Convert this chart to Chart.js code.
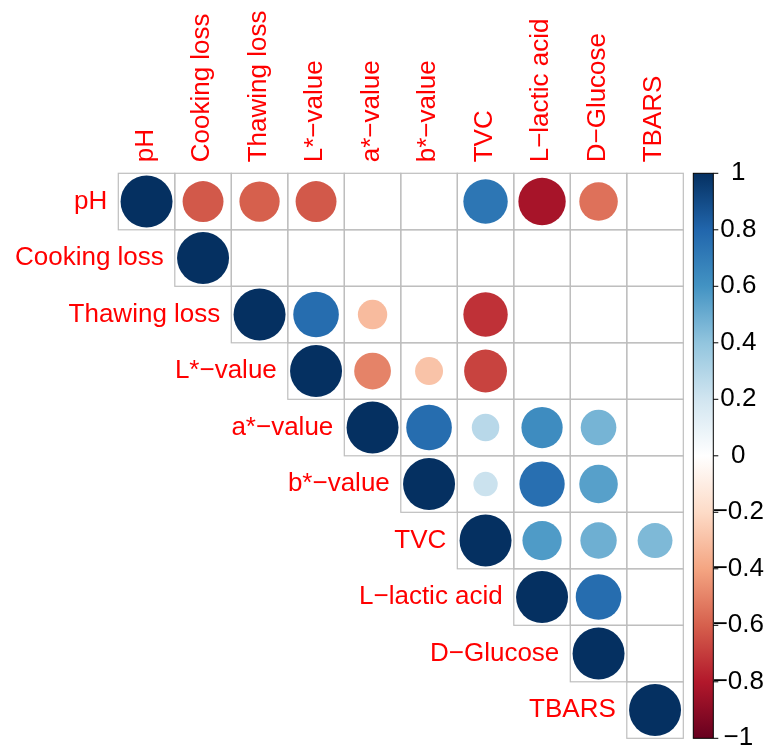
<!DOCTYPE html>
<html>
<head>
<meta charset="utf-8">
<title>Correlation matrix</title>
<script src="https://cdn.jsdelivr.net/npm/chart.js@4.4.1/dist/chart.umd.min.js"></script>
<style>
  html, body { margin: 0; padding: 0; background: #ffffff; }
  #wrap { width: 767px; height: 747px; position: relative; }
</style>
</head>
<body>
<div id="wrap"><canvas id="corr" width="767" height="747"></canvas></div>
<script>
// Variables in matrix order
const variables = ["pH", "Cooking loss", "Thawing loss", "L*\u2212value", "a*\u2212value",
                   "b*\u2212value", "TVC", "L\u2212lactic acid", "D\u2212Glucose", "TBARS"];

// Upper-triangle correlation coefficients, one array per row, starting at the diagonal.
// null = not significant (cell left empty)
const rowPH        = [1, -0.62, -0.60, -0.62, null, null, 0.73, -0.83, -0.55, null];
const rowCooking   = [1, null, null, null, null, null, null, null, null];
const rowThawing   = [1, 0.77, -0.32, null, -0.73, null, null, null];
const rowL         = [1, -0.50, -0.29, -0.68, null, null, null];
const rowA         = [1, 0.77, 0.28, 0.63, 0.47, null];
const rowB         = [1, 0.22, 0.76, 0.55, null];
const rowTVC       = [1, 0.57, 0.49, 0.45];
const rowLactic    = [1, 0.77, null];
const rowGlucose   = [1, null];
const rowTBARS     = [1];
const upperRows = [rowPH, rowCooking, rowThawing, rowL, rowA, rowB, rowTVC, rowLactic, rowGlucose, rowTBARS];

// Colour bar tick values and labels
const legendTicks  = [1, 0.8, 0.6, 0.4, 0.2, 0, -0.2, -0.4, -0.6, -0.8, -1];
const legendLabels = ["1", "0.8", "0.6", "0.4", "0.2", "0", "\u22120.2", "\u22120.4", "\u22120.6", "\u22120.8", "\u22121"];

// RdBu diverging palette, from -1 to 1
const paletteStops = ["#67001F", "#B2182B", "#D6604D", "#F4A582", "#FDDBC7", "#FFFFFF",
                      "#D1E5F0", "#92C5DE", "#4393C3", "#2166AC", "#053061"];

function hexToRgb(h) {
  return [parseInt(h.slice(1, 3), 16), parseInt(h.slice(3, 5), 16), parseInt(h.slice(5, 7), 16)];
}
function colourFor(v) {
  const pos = (Math.max(-1, Math.min(1, v)) + 1) / 2 * (paletteStops.length - 1);
  const i = Math.min(Math.floor(pos), paletteStops.length - 2);
  const t = pos - i;
  const a = hexToRgb(paletteStops[i]), b = hexToRgb(paletteStops[i + 1]);
  const c = a.map((x, k) => Math.round(x + (b[k] - x) * t));
  return `rgb(${c[0]},${c[1]},${c[2]})`;
}

// Build scatter points: x = column index, y = row index
const points = [];
upperRows.forEach((row, i) => {
  row.forEach((v, k) => {
    if (v !== null) points.push({ x: i + k, y: i, v: v });
  });
});

const n = variables.length;
const FONT = '"Liberation Sans", Arial, sans-serif';
const LABEL_RED = '#FF0000';

function cellSize(chart) {
  const xs = chart.scales.x;
  return Math.abs(xs.getPixelForValue(1) - xs.getPixelForValue(0));
}

// Grid of cells for the upper triangle
const gridPlugin = {
  id: 'cellGrid',
  beforeDatasetsDraw(chart) {
    const { ctx, scales: { x, y } } = chart;
    ctx.save();
    ctx.strokeStyle = '#BEBEBE';
    ctx.lineWidth = 1.2;
    for (let i = 0; i < n; i++) {
      for (let j = i; j < n; j++) {
        const x0 = x.getPixelForValue(j - 0.5), x1 = x.getPixelForValue(j + 0.5);
        const y0 = y.getPixelForValue(i - 0.5), y1 = y.getPixelForValue(i + 0.5);
        ctx.strokeRect(x0, y0, x1 - x0, y1 - y0);
      }
    }
    ctx.restore();
  }
};

// Row/column labels and the colour bar
const labelPlugin = {
  id: 'labelsAndLegend',
  afterDraw(chart) {
    const { ctx, scales: { x, y } } = chart;
    ctx.save();
    ctx.font = `26px ${FONT}`;
    ctx.fillStyle = LABEL_RED;

    // Column labels, rotated, above the grid
    const top = y.getPixelForValue(-0.5);
    variables.forEach((name, j) => {
      ctx.save();
      ctx.translate(x.getPixelForValue(j) - 1, top - 11);
      ctx.rotate(-Math.PI / 2);
      ctx.textAlign = 'left';
      ctx.textBaseline = 'middle';
      ctx.fillText(name, 0, 0);
      ctx.restore();
    });

    // Row labels, right-aligned just left of the diagonal cell
    ctx.textAlign = 'right';
    ctx.textBaseline = 'middle';
    variables.forEach((name, i) => {
      ctx.fillText(name, x.getPixelForValue(i - 0.5) - 11, y.getPixelForValue(i));
    });

    // Colour bar
    const barTop = y.getPixelForValue(-0.5);
    const barBottom = y.getPixelForValue(n - 0.5);
    const barLeft = x.getPixelForValue(n - 0.5) + 10;
    const barWidth = 20;
    const grad = ctx.createLinearGradient(0, barBottom, 0, barTop);
    paletteStops.forEach((c, k) => grad.addColorStop(k / (paletteStops.length - 1), c));
    ctx.fillStyle = grad;
    ctx.fillRect(barLeft, barTop, barWidth, barBottom - barTop);
    ctx.strokeStyle = '#000000';
    ctx.lineWidth = 1;
    ctx.strokeRect(barLeft, barTop, barWidth, barBottom - barTop);

    ctx.fillStyle = '#000000';
    ctx.textAlign = 'center';
    ctx.textBaseline = 'middle';
    legendTicks.forEach((v, k) => {
      const py = barTop + (1 - v) / 2 * (barBottom - barTop);
      ctx.beginPath();
      ctx.moveTo(barLeft + barWidth, py);
      ctx.lineTo(barLeft + barWidth + 5, py);
      ctx.stroke();
      ctx.fillText(legendLabels[k], barLeft + barWidth + 25, py);
    });
    ctx.restore();
  }
};

new Chart(document.getElementById('corr'), {
  type: 'scatter',
  data: {
    datasets: [{
      data: points,
      pointStyle: 'circle',
      borderWidth: 0,
      pointRadius: ctx => {
        const v = ctx.raw ? ctx.raw.v : 0;
        return 0.46 * cellSize(ctx.chart) * Math.sqrt(Math.abs(v));
      },
      pointHoverRadius: ctx => {
        const v = ctx.raw ? ctx.raw.v : 0;
        return 0.46 * cellSize(ctx.chart) * Math.sqrt(Math.abs(v));
      },
      backgroundColor: ctx => colourFor(ctx.raw ? ctx.raw.v : 0),
      borderColor: ctx => colourFor(ctx.raw ? ctx.raw.v : 0),
      clip: false
    }]
  },
  options: {
    responsive: false,
    animation: false,
    events: [],
    layout: { padding: { left: 118.3, top: 173.3, right: 83.7, bottom: 8.7 } },
    plugins: { legend: { display: false }, tooltip: { enabled: false } },
    scales: {
      x: { type: 'linear', min: -0.5, max: n - 0.5, display: false },
      y: { type: 'linear', min: -0.5, max: n - 0.5, reverse: true, display: false }
    }
  },
  plugins: [gridPlugin, labelPlugin]
});
</script>
</body>
</html>
